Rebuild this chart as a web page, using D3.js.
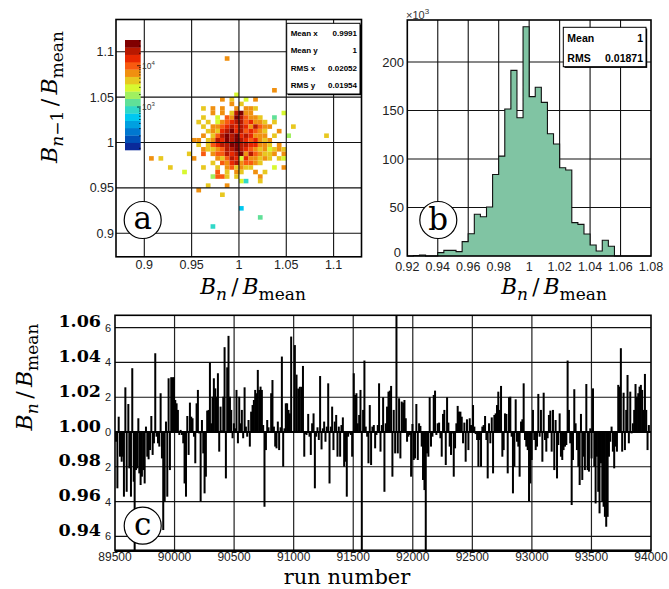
<!DOCTYPE html>
<html><head><meta charset="utf-8">
<script src="https://cdn.jsdelivr.net/npm/d3@7"></script>
<style>body{margin:0;background:#fff}svg{display:block}</style>
</head><body><svg id="c" width="669" height="589"></svg>
<script>
// ---------------- DATA ----------------
// panel (a): 2D histogram cells [x bin low edge, y bin low edge, entries]
const cellW = 0.005;
const cells = [
[0.985,1.090,6600],[1.035,1.055,6600],[0.995,1.050,2930],
[0.980,1.045,6600],[0.990,1.045,4400],[1.005,1.045,2930],[1.015,1.045,6600],
[0.990,1.040,6600],[1.000,1.040,4400],
[0.960,1.035,4400],[0.970,1.035,6600],[0.980,1.035,6600],[0.995,1.035,6600],[1.005,1.035,6600],[1.010,1.035,6600],[1.015,1.035,4400],
[0.970,1.030,6600],[0.980,1.030,6600],[0.990,1.030,4400],[0.995,1.030,22600],[1.000,1.030,33900],[1.005,1.030,6600],[1.010,1.030,6600],[1.045,1.030,2930],
[0.960,1.025,4400],[0.975,1.025,2930],[0.985,1.025,9950],[0.990,1.025,6600],[0.995,1.025,33900],[1.000,1.025,22600],[1.005,1.025,9950],[1.010,1.025,6600],[1.015,1.025,6600],[1.020,1.025,4400],[1.035,1.025,1300],
[0.955,1.020,4400],[0.965,1.020,4400],[0.975,1.020,2930],[0.980,1.020,6600],[0.985,1.020,9950],[0.990,1.020,15000],[0.995,1.020,22600],[1.000,1.020,22600],[1.005,1.020,9950],[1.010,1.020,15000],[1.015,1.020,6600],[1.020,1.020,6600],[1.025,1.020,4400],[1.035,1.020,4400],
[0.960,1.015,4400],[0.970,1.015,6600],[0.975,1.015,6600],[0.980,1.015,9950],[0.985,1.015,15000],[0.990,1.015,22600],[0.995,1.015,15000],[1.000,1.015,22600],[1.005,1.015,15000],[1.010,1.015,6600],[1.015,1.015,22600],[1.020,1.015,9950],[1.025,1.015,6600],[1.030,1.015,6600],[1.055,1.015,4400],
[0.965,1.010,4400],[0.970,1.010,6600],[0.975,1.010,4400],[0.980,1.010,15000],[0.985,1.010,22600],[0.990,1.010,33900],[0.995,1.010,15000],[1.000,1.010,22600],[1.005,1.010,9950],[1.010,1.010,15000],[1.015,1.010,9950],[1.020,1.010,6600],[1.025,1.010,4400],[1.040,1.010,6600],
[0.960,1.005,6600],[0.970,1.005,4400],[0.975,1.005,9950],[0.980,1.005,22600],[0.985,1.005,33900],[0.990,1.005,22600],[0.995,1.005,33900],[1.000,1.005,15000],[1.005,1.005,22600],[1.010,1.005,15000],[1.015,1.005,6600],[1.020,1.005,6600],[1.025,1.005,6600],[1.035,1.005,4400],[1.050,1.005,1950],[1.090,1.005,4400],
[0.950,1.000,6600],[0.955,1.000,6600],[0.965,1.000,4400],[0.970,1.000,6600],[0.975,1.000,22600],[0.980,1.000,15000],[0.985,1.000,33900],[0.990,1.000,22600],[0.995,1.000,33900],[1.000,1.000,22600],[1.005,1.000,15000],[1.010,1.000,9950],[1.015,1.000,15000],[1.020,1.000,6600],[1.025,1.000,4400],[1.030,1.000,6600],
[0.955,0.995,4400],[0.965,0.995,4400],[0.970,0.995,9950],[0.975,0.995,15000],[0.980,0.995,22600],[0.985,0.995,22600],[0.990,0.995,33900],[0.995,0.995,33900],[1.000,0.995,22600],[1.005,0.995,22600],[1.010,0.995,15000],[1.015,0.995,15000],[1.020,0.995,6600],[1.025,0.995,6600],[1.030,0.995,4400],[1.040,0.995,6600],
[0.960,0.990,6600],[0.965,0.990,4400],[0.970,0.990,4400],[0.975,0.990,6600],[0.980,0.990,9950],[0.985,0.990,22600],[0.990,0.990,22600],[0.995,0.990,33900],[1.000,0.990,22600],[1.005,0.990,15000],[1.010,0.990,9950],[1.015,0.990,6600],[1.020,0.990,4400],[1.025,0.990,6600],[1.030,0.990,2930],[1.035,0.990,4400],[1.040,0.990,6600],[1.045,0.990,4400],
[0.945,0.985,4400],[0.960,0.985,9950],[0.970,0.985,6600],[0.975,0.985,9950],[0.980,0.985,9950],[0.985,0.985,22600],[0.990,0.985,15000],[0.995,0.985,22600],[1.000,0.985,33900],[1.005,0.985,6600],[1.010,0.985,22600],[1.015,0.985,9950],[1.020,0.985,6600],[1.025,0.985,4400],[1.030,0.985,4400],[1.035,0.985,6600],[1.045,0.985,6600],
[0.905,0.980,6600],[0.915,0.980,4400],[0.950,0.980,6600],[0.975,0.980,6600],[0.980,0.980,4400],[0.985,0.980,9950],[0.990,0.980,22600],[0.995,0.980,15000],[1.000,0.980,2930],[1.005,0.980,15000],[1.010,0.980,6600],[1.015,0.980,6600],[1.020,0.980,4400],[1.025,0.980,6600],[1.030,0.980,4400],[1.040,0.980,4400],[1.045,0.980,2930],
[0.970,0.975,4400],[0.980,0.975,9950],[0.985,0.975,6600],[0.990,0.975,15000],[0.995,0.975,22600],[1.000,0.975,6600],[1.005,0.975,9950],[1.010,0.975,9950],[1.015,0.975,6600],[1.020,0.975,4400],
[0.925,0.970,4400],[0.960,0.970,4400],[0.975,0.970,4400],[0.985,0.970,6600],[0.990,0.970,9950],[0.995,0.970,4400],[1.000,0.970,6600],[1.005,0.970,4400],[1.010,0.970,4400],[1.035,0.970,2930],[1.045,0.970,6600],
[0.940,0.965,2930],[0.975,0.965,9950],[0.985,0.965,4400],[0.995,0.965,6600],[1.000,0.965,4400],[1.015,0.965,6600],[1.025,0.965,4400],
[0.970,0.960,1950],[0.975,0.960,9950],[0.980,0.960,9950],[0.985,0.960,4400],[0.995,0.960,4400],[1.020,0.960,6600],
[1.000,0.955,2930],[1.005,0.955,861],[1.020,0.955,4400],
[0.965,0.950,4400],[0.985,0.950,6600],
[0.955,0.945,6600],
[0.980,0.940,4400],
[1.000,0.925,573],
[1.020,0.915,1300],
[0.970,0.905,861]
];
const paletteA = ["#0a2a9a","#0050b8","#0078d0","#00a0e0","#00c8f0","#30d8c8","#60e098","#a0f060","#d8f830","#e8c820","#f09010","#f85a10","#e82800","#b81800","#800000"];
const zRange = [91, 42000];
const statsA = [["Mean x","0.9991"],["Mean y","1"],["RMS x","0.02052"],["RMS y","0.01954"]];
const ticksA = [0.9, 0.95, 1, 1.05, 1.1];
const tickLabelsA = ["0.9","0.95","1","1.05","1.1"];

// panel (b): histogram, 40 bins of 0.004 from 0.92 (entries x10^3)
const binStart = 0.92, binW = 0.004;
const histCounts = [0,0.5,1,0,0,3.5,5.8,5.8,4.5,14.8,23,43,40.5,50.5,84,103,151.5,191.4,142.6,236.4,164.3,174,158.4,126,115.5,91,88.7,34.4,32.6,22.7,11.3,5.2,16.2,10,0,0,0,0,0,0];
const ticksBx = [0.92,0.94,0.96,0.98,1,1.02,1.04,1.06,1.08];
const tickLabelsBx = ["0.92","0.94","0.96","0.98","1","1.02","1.04","1.06","1.08"];
const ticksBy = [0,50,100,150,200];
const statsB = [["Mean","1"],["RMS","0.01871"]];

// panel (c): B_n/B_mean vs run number
const runs = [89508,89520,89531,89542,89556,89564,89575,89587,89598,89612,89620,89634,89645,89657,89665,89676,89687,89696,89704,89715,89726,89738,89749,89760,89771,89782,89794,89805,89816,89827,89838,89849,89861,89872,89883,89894,89905,89917,89928,89939,89950,89961,89972,89984,89995,90006,90017,90028,90040,90051,90062,90073,90084,90096,90107,90118,90129,90140,90151,90163,90174,90185,90196,90207,90219,90230,90241,90252,90263,90274,90286,90297,90308,90319,90330,90342,90353,90364,90375,90386,90397,90409,90420,90431,90442,90453,90465,90476,90487,90498,90509,90520,90532,90543,90554,90565,90576,90588,90599,90610,90621,90632,90643,90655,90666,90677,90688,90699,90711,90722,90733,90744,90755,90767,90778,90789,90811,90822,90834,90845,90856,90867,90878,90890,90901,90912,90923,90934,90945,90957,90968,90979,91010,91024,91038,91052,91066,91078,91089,91097,91108,91122,91133,91144,91155,91167,91178,91189,91200,91211,91222,91234,91245,91256,91267,91278,91290,91301,91312,91323,91334,91345,91357,91368,91379,91390,91401,91413,91424,91435,91446,91457,91468,91480,91491,91505,91516,91527,91538,91550,91561,91572,91583,91594,91605,91617,91628,91639,91650,91661,91673,91684,91695,91706,91717,91729,91740,91751,91762,91773,91784,91796,91807,91818,91829,91840,91852,91863,91874,91885,91896,91907,91919,91930,91941,91952,91963,91975,91986,91997,92008,92019,92030,92042,92053,92064,92075,92086,92098,92109,92120,92131,92142,92153,92165,92176,92187,92198,92209,92221,92232,92243,92254,92265,92277,92288,92299,92310,92321,92332,92344,92355,92366,92377,92388,92400,92411,92422,92433,92444,92455,92467,92478,92489,92506,92517,92528,92540,92551,92562,92573,92584,92595,92607,92618,92629,92640,92651,92663,92674,92685,92696,92707,92718,92730,92741,92752,92763,92774,92786,92797,92808,92819,92830,92841,92853,92864,92875,92886,92897,92909,92920,92931,92942,92953,92965,92976,92987,92998,93009,93020,93032,93043,93054,93065,93076,93088,93099,93110,93121,93132,93143,93155,93166,93177,93188,93199,93211,93222,93233,93244,93255,93266,93278,93289,93300,93311,93322,93334,93345,93356,93367,93378,93390,93401,93412,93423,93434,93445,93457,93468,93479,93490,93501,93513,93524,93535,93546,93557,93568,93580,93591,93602,93613,93624,93636,93647,93658,93669,93680,93691,93703,93714,93725,93736,93747,93758,93770,93781,93792,93803,93814,93826,93837,93848,93859,93870,93882,93893,93904,93915,93926,93937,93949,93960,93971,93982];
const ratio = [0.9944,0.9676,1.0088,0.9858,0.9829,0.9858,0.9628,1.0257,0.9656,1.0161,0.9791,0.9628,1.0367,0.9714,0.932,0.9781,0.9791,1.0079,0.9762,0.9695,0.9743,0.9781,0.9704,1.0031,0.9858,0.9843,0.9896,1.0092,0.9868,0.9935,1.0453,0.9973,0.9935,0.9916,1.0223,0.9848,0.9436,0.9599,1.006,0.9628,1.0309,0.9781,1.0315,1.0315,1.0315,1.0184,1.0165,1.0127,0.9983,1.0012,0.9983,0.9935,0.9704,0.9628,1.0092,0.9868,1.0169,1.0088,1.0079,0.9973,0.982,1.0165,1.0242,0.9992,0.9599,1.0069,0.9877,0.9647,0.9743,1.0123,1.0127,1.0399,1.005,1.0203,1.0309,1.0251,1.0203,1.0338,0.9887,1.0146,1.001,1.0203,1.0488,0.9733,1.0372,1.0553,1.0203,1.0127,0.9964,1.005,1.0021,1.0242,0.9935,1.0203,1.005,1.0127,0.9964,1.0257,1.0031,0.9973,1.0069,0.9916,1.0117,1.0155,1.0184,1.0242,1.0223,1.0357,1.0242,1.0261,1.0242,1.004,0.957,0.9896,1.0069,1.0027,1.0223,1.0299,1.0031,0.9916,0.9906,1.006,0.9896,1.0027,1.0434,0.98,1.0021,1.0165,1.0165,1.0127,1.0107,1.0549,1.05,1.033,1.025,1.026,1.026,1.038,0.9858,0.9988,0.9983,1.0104,0.9973,0.9868,1.005,1.0107,0.9676,0.9973,1.0027,0.9954,1.0322,0.99,1.0021,1.006,0.9944,1.0031,1.028,0.9704,1.0031,1.0146,0.9896,1.006,1.0098,0.9858,1.0031,0.9858,1.004,1.0084,0.98,0.9829,0.9628,0.9973,0.9992,0.9983,0.9858,1.0338,1.0213,1.0223,1.005,1.0098,1.0242,0.932,1.0127,1.0411,1.0031,0.9973,0.982,1.0155,0.981,1.0031,1.004,0.9906,0.9983,1.004,1.028,0.9887,1.004,1.02,0.9656,1.005,1.0146,1.0232,1.0238,1.0265,0.9743,1.0127,0.9877,1.075,0.9877,1.0194,0.9848,1.0175,1.0169,1.0184,1.0079,0.9944,0.9973,0.9983,0.9743,1.0046,0.9839,0.9848,1.0161,0.9839,1.005,1.0035,0.9916,0.9724,0.9666,0.932,0.9877,0.9858,1.02,0.9916,0.9973,1.0213,1.0238,0.9983,1.005,1.0054,0.9964,0.9858,1.0104,1.0127,0.981,1.02,1.0054,0.9916,0.9868,0.9992,0.9743,0.9906,1.005,1.015,1.0117,1.0117,1.0088,0.9935,1.0054,0.9829,1.0073,0.9896,1.0079,1.004,1.0155,1.0031,0.9988,0.9954,0.98,0.9954,0.98,1.0031,1.004,1.0092,0.9954,0.9733,1.005,0.9935,1.0084,0.9762,1.0098,1.0107,1.0155,1.0232,1.0127,1.0265,0.9858,0.9896,1.0107,1.0104,0.9762,1.02,1.0203,0.9973,0.9647,0.98,1.0188,0.9944,0.9916,0.9743,1.006,1.0073,1.028,0.9954,0.9916,0.9896,0.9599,0.9704,0.9839,1.0127,0.9954,0.9896,0.9916,1.0219,0.9973,1.0127,0.9829,1.0226,0.9954,0.9887,0.9964,1.0098,1.0123,0.9887,1.0127,0.9781,1.0069,0.9733,0.9925,1.0107,0.9858,0.9839,0.9896,0.9916,0.9925,1.0411,1.0127,0.9935,0.958,0.9839,1.0246,1.005,0.9896,0.98,0.9695,1.0104,0.9724,0.9858,0.9781,1.0276,0.9781,0.9772,1.0021,0.9848,1.0251,0.98,0.9589,0.9858,0.9656,0.9532,0.982,0.9599,0.957,0.9512,0.9455,0.9512,0.9858,0.9944,1.0031,0.9887,0.9791,0.9916,0.9887,1.0271,1.0261,1.0482,0.9887,1.0226,0.9896,1.0127,1.0328,0.9935,1.0232,0.9992,1.005,1.0127,1.0276,1.0203,1.0223,1.0261,1.0271,1.0242,1.0127,1.0334,1.0127,0.9896,1.004];
const ticksCx = [89500,90000,90500,91000,91500,92000,92500,93000,93500,94000];
const ticksCy = [0.94,0.96,0.98,1.00,1.02,1.04,1.06];
const boldLabelsC = ["0.94","0.96","0.98","1.00","1.02","1.04","1.06"];
const smallLabelsC = ["6","4","2","0","2","4","6"];

// ---------------- DRAWING ----------------
const SANS = "'Liberation Sans', Arial, Helvetica, sans-serif";
const SERIF = "'DejaVu Serif', serif";
const svg = d3.select("#c");
const defs = svg.append("defs");

function ratioTitle(x, y, rot, subParts, fs) {
  fs = fs || 22;
  const t = svg.append("text").attr("font-family", SERIF).attr("font-size", fs)
    .attr("text-anchor", "middle").attr("fill", "#000")
    .attr("transform", `translate(${x},${y}) rotate(${rot})`);
  t.append("tspan").attr("font-style", "italic").text("B");
  let first = true;
  subParts.forEach(p => {
    const s = t.append("tspan").attr("font-size", 17).attr("font-style", p.it ? "italic" : "normal").text(p.t);
    if (first) { s.attr("dy", 6); first = false; }
  });
  t.append("tspan").attr("dy", -6).text("\u2009/\u2009");
  t.append("tspan").attr("font-style", "italic").text("B");
  t.append("tspan").attr("font-size", 17).attr("dy", 6).text("mean");
}
function circleLabel(cx, cy, letter) {
  svg.append("circle").attr("cx", cx).attr("cy", cy).attr("r", 18.5)
    .attr("fill", "#fff").attr("stroke", "#000").attr("stroke-width", 1.2);
  svg.append("text").attr("x", cx).attr("y", cy).attr("dy", letter === "b" ? 10 : 9)
    .attr("text-anchor", "middle").attr("font-family", SERIF).attr("font-size", 31).text(letter);
}
function statsBox(x0, y0, x1, y1, rows, rowYs, fs) {
  svg.append("rect").attr("x", x0 + 1.2).attr("y", y0 + 1.2).attr("width", x1 - x0).attr("height", y1 - y0).attr("fill", "#000");
  svg.append("rect").attr("x", x0).attr("y", y0).attr("width", x1 - x0).attr("height", y1 - y0)
    .attr("fill", "#fff").attr("stroke", "#000").attr("stroke-width", 1);
  rows.forEach((r, i) => {
    svg.append("text").attr("x", x0 + 4).attr("y", rowYs[i]).attr("font-family", SANS).attr("font-weight", "bold").attr("font-size", fs).text(r[0]);
    svg.append("text").attr("x", x1 - 3).attr("y", rowYs[i]).attr("text-anchor", "end").attr("font-family", SANS).attr("font-weight", "bold").attr("font-size", fs).text(r[1]);
  });
}

// ===== Panel (a) =====
const xA = d3.scaleLinear().domain([0.9, 1.1]).range([144.3, 333.6]);
const yA = d3.scaleLinear().domain([0.9, 1.1]).range([233.3, 51.7]);
const fa = {x0: 116, x1: 361.5, y0: 19.5, y1: 256.8};
const logZ = [Math.log10(zRange[0]), Math.log10(zRange[1])];
const colA = d3.scaleQuantize().domain(logZ).range(paletteA);
defs.append("clipPath").attr("id", "clipA").append("rect")
  .attr("x", fa.x0).attr("y", fa.y0).attr("width", fa.x1 - fa.x0).attr("height", fa.y1 - fa.y0);
const gA = svg.append("g").attr("clip-path", "url(#clipA)");
gA.selectAll("rect.cell").data(cells).join("rect")
  .attr("x", d => xA(d[0])).attr("y", d => yA(d[1] + cellW))
  .attr("width", d => xA(d[0] + cellW) - xA(d[0])).attr("height", d => yA(d[1]) - yA(d[1] + cellW))
  .attr("fill", d => colA(Math.log10(d[2])));
gA.selectAll("line.gx").data(ticksA).join("line")
  .attr("x1", d => xA(d)).attr("x2", d => xA(d)).attr("y1", fa.y0).attr("y2", fa.y1)
  .attr("stroke", "#111").attr("stroke-width", 1.1);
gA.selectAll("line.gy").data(ticksA).join("line")
  .attr("y1", d => yA(d)).attr("y2", d => yA(d)).attr("x1", fa.x0).attr("x2", fa.x1)
  .attr("stroke", "#111").attr("stroke-width", 1.1);
svg.append("rect").attr("x", fa.x0).attr("y", fa.y0).attr("width", fa.x1 - fa.x0).attr("height", fa.y1 - fa.y0)
  .attr("fill", "none").attr("stroke", "#000").attr("stroke-width", 1.6);
svg.selectAll("text.axa").data(ticksA).join("text")
  .attr("x", d => xA(d)).attr("y", 268.5).attr("text-anchor", "middle")
  .attr("font-family", SANS).attr("font-size", 12.5).attr("fill", "#222").text((d, i) => tickLabelsA[i]);
svg.selectAll("text.aya").data(ticksA).join("text")
  .attr("x", 114).attr("y", d => yA(d) + 4.5).attr("text-anchor", "end")
  .attr("font-family", SANS).attr("font-size", 12.5).attr("fill", "#222").text((d, i) => tickLabelsA[i]);
const cbScale = d3.scaleLog().domain(zRange).range([150, 40]);
const nBand = paletteA.length;
const bandEdges = d3.range(nBand + 1).map(k => Math.pow(10, logZ[0] + k * (logZ[1] - logZ[0]) / nBand));
svg.selectAll("rect.band").data(paletteA).join("rect")
  .attr("x", 125).attr("width", 15.7)
  .attr("y", (c, k) => cbScale(bandEdges[k + 1])).attr("height", (c, k) => cbScale(bandEdges[k]) - cbScale(bandEdges[k + 1]) + 0.3)
  .attr("fill", c => c);
const cbTicks = [100,200,300,400,500,600,700,800,900,1000,2000,3000,4000,5000,6000,7000,8000,9000,10000,20000,30000,40000];
svg.selectAll("line.cbt").data(cbTicks).join("line")
  .attr("x1", 140.7).attr("x2", d => (d === 1000 || d === 10000) ? 137 : 139)
  .attr("y1", d => cbScale(d)).attr("y2", d => cbScale(d)).attr("stroke", "#000").attr("stroke-width", 0.7);
[[10000, "4"], [1000, "3"]].forEach(([v, e]) => {
  const t = svg.append("text").attr("x", 142).attr("y", cbScale(v) + 3).attr("font-family", SANS).attr("font-size", 8.5).attr("fill", "#333");
  t.append("tspan").text("10");
  t.append("tspan").attr("font-size", 6).attr("dy", -4).text(e);
});
statsBox(286.7, 23.3, 360, 94, statsA, [36, 53, 71, 88], 8);
circleLabel(142.7, 220, "a");
ratioTitle(253, 293.5, 0, [{t: "n", it: true}], 21.5);
ratioTitle(57, 97, -90, [{t: "n", it: true}, {t: "\u22121", it: false}]);

// ===== Panel (b) =====
const xB = d3.scaleLinear().domain([0.92, 1.08]).range([407.3, 651]);
const yB = d3.scaleLinear().domain([0, 200]).range([256, 62]);
const fb = {x0: 407.3, x1: 651, y0: 20, y1: 256};
svg.selectAll("line.bgx").data(ticksBx.slice(1, -1)).join("line")
  .attr("x1", d => xB(d)).attr("x2", d => xB(d)).attr("y1", fb.y0).attr("y2", fb.y1).attr("stroke", "#111").attr("stroke-width", 1.1);
svg.selectAll("line.bgy").data(ticksBy.slice(1)).join("line")
  .attr("y1", d => yB(d)).attr("y2", d => yB(d)).attr("x1", fb.x0).attr("x2", fb.x1).attr("stroke", "#111").attr("stroke-width", 1.1);
const histPts = [];
histCounts.forEach((c, i) => {
  const lo = binStart + i * binW;
  histPts.push([lo, c], [lo + binW, c]);
});
const histArea = d3.area().x(d => xB(d[0])).y0(yB(0)).y1(d => yB(d[1]));
const histLine = d3.line().x(d => xB(d[0])).y(d => yB(d[1]));
svg.append("path").attr("d", histArea(histPts)).attr("fill", "#80c4a3");
svg.append("path").attr("d", histLine(histPts)).attr("fill", "none").attr("stroke", "#111").attr("stroke-width", 1.1);
svg.append("rect").attr("x", fb.x0).attr("y", fb.y0).attr("width", fb.x1 - fb.x0).attr("height", fb.y1 - fb.y0)
  .attr("fill", "none").attr("stroke", "#000").attr("stroke-width", 1.6);
svg.selectAll("text.bx").data(ticksBx).join("text")
  .attr("x", d => xB(d)).attr("y", 271).attr("text-anchor", "middle")
  .attr("font-family", SANS).attr("font-size", 12.5).attr("fill", "#222").text((d, i) => tickLabelsBx[i]);
svg.selectAll("text.by").data(ticksBy).join("text")
  .attr("x", d => d === 0 ? 401 : 404).attr("y", d => yB(d) + (d === 0 ? 0.5 : 4.5)).attr("text-anchor", "end")
  .attr("font-family", SANS).attr("font-size", 13).attr("fill", "#222").text(d => d);
{
  const t = svg.append("text").attr("x", 406).attr("y", 18.5).attr("font-family", SANS).attr("font-size", 11).attr("fill", "#333");
  t.append("tspan").text("\u00d710");
  t.append("tspan").attr("font-size", 8).attr("dy", -5).text("3");
}
statsBox(563.3, 27.3, 646, 66.7, statsB, [42, 61.5], 10.5);
circleLabel(438.3, 220, "b");
ratioTitle(554, 293.5, 0, [{t: "n", it: true}], 21.5);

// ===== Panel (c) =====
const xC = d3.scaleLinear().domain([89500, 94000]).range([115, 651]);
const yC = d3.scaleLinear().domain([0.94, 1.06]).range([536.3, 327.7]);
const fc = {x0: 115, x1: 651, y0: 315.3, y1: 550.7};
defs.append("clipPath").attr("id", "clipC").append("rect")
  .attr("x", fc.x0).attr("y", fc.y0).attr("width", fc.x1 - fc.x0).attr("height", fc.y1 - fc.y0);
const gC = svg.append("g").attr("clip-path", "url(#clipC)");
gC.selectAll("line.cgx").data(ticksCx.slice(1, -1)).join("line")
  .attr("x1", d => xC(d)).attr("x2", d => xC(d)).attr("y1", fc.y0).attr("y2", fc.y1).attr("stroke", "#222").attr("stroke-width", 1.2);
gC.selectAll("line.cgy").data(ticksCy).join("line")
  .attr("y1", d => yC(d)).attr("y2", d => yC(d)).attr("x1", fc.x0).attr("x2", fc.x1).attr("stroke", "#111").attr("stroke-width", 1.2);
const barW = 2.0;
gC.selectAll("rect.bar").data(runs).join("rect")
  .attr("x", d => xC(d) - barW / 2).attr("width", barW)
  .attr("y", (d, i) => Math.min(yC(1), yC(ratio[i])))
  .attr("height", (d, i) => Math.abs(yC(ratio[i]) - yC(1)))
  .attr("fill", "#000");
gC.append("line").attr("x1", fc.x0).attr("x2", fc.x1).attr("y1", yC(1)).attr("y2", yC(1)).attr("stroke", "#000").attr("stroke-width", 1.8);
svg.append("rect").attr("x", fc.x0).attr("y", fc.y0).attr("width", fc.x1 - fc.x0).attr("height", fc.y1 - fc.y0)
  .attr("fill", "none").attr("stroke", "#000").attr("stroke-width", 1.6);
svg.append("line").attr("x1", fc.x0).attr("x2", fc.x1).attr("y1", fc.y1).attr("y2", fc.y1).attr("stroke", "#000").attr("stroke-width", 2.4);
svg.selectAll("text.cx").data(ticksCx).join("text")
  .attr("x", d => xC(d)).attr("y", 561).attr("text-anchor", "middle")
  .attr("font-family", SANS).attr("font-size", 12).attr("fill", "#222").text(d => d);
svg.selectAll("text.cys").data(ticksCy).join("text")
  .attr("x", 111).attr("y", d => yC(d) + 4).attr("text-anchor", "end")
  .attr("font-family", SANS).attr("font-size", 11).attr("fill", "#222").text((d, i) => smallLabelsC[i]);
svg.selectAll("text.cyb").data(ticksCy).join("text")
  .attr("x", 101).attr("y", d => yC(d) - 0.5).attr("text-anchor", "end")
  .attr("font-family", SERIF).attr("font-weight", "bold").attr("font-size", 17.5).attr("fill", "#000").text((d, i) => boldLabelsC[i]);
circleLabel(142.7, 525.7, "c");
svg.append("text").attr("x", 347).attr("y", 584).attr("text-anchor", "middle")
  .attr("font-family", SERIF).attr("font-size", 21).text("run number");
ratioTitle(32, 377, -90, [{t: "n", it: true}]);
</script></body></html>
